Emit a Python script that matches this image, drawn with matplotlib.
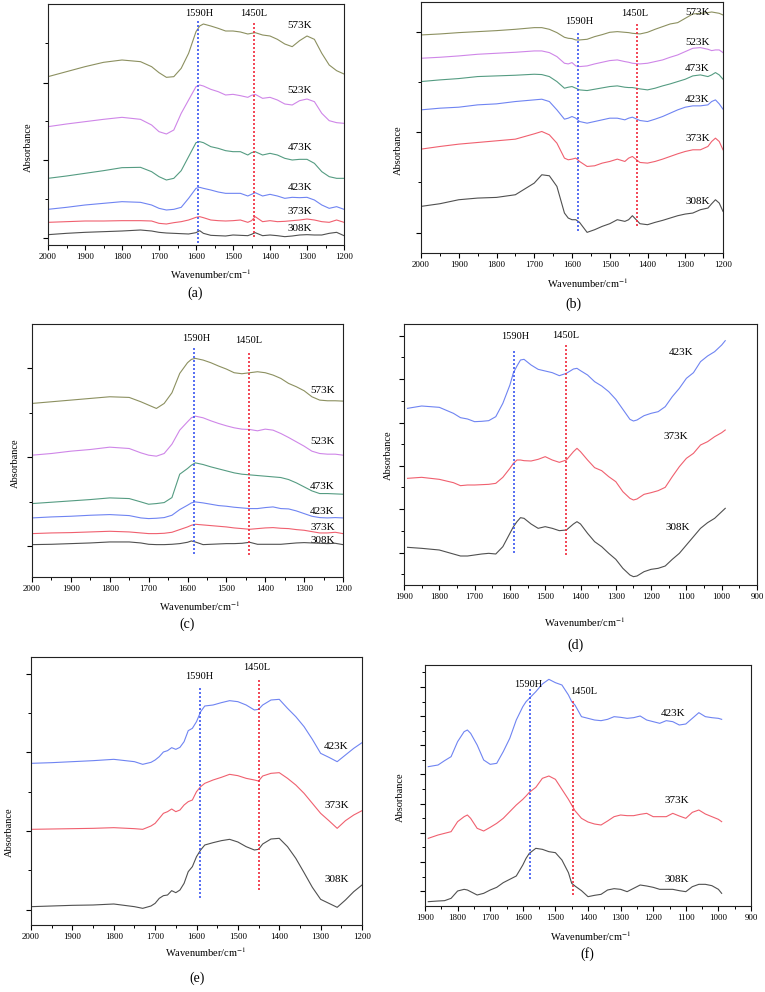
import matplotlib
matplotlib.use('Agg')
import matplotlib.pyplot as plt
from matplotlib.ticker import MultipleLocator, FixedLocator, NullFormatter

plt.rcParams['font.family'] = ['Liberation Serif', 'DejaVu Serif']
plt.rcParams['mathtext.fontset'] = 'stix'

# ---------------- data (absorbance, arbitrary offset units) ----------------
temps6 = ['573K', '523K', '473K', '423K', '373K', '308K']
temps3 = ['423K', '373K', '308K']

# (a)
a_wn = [2000,1950,1900,1850,1800,1750,1720,1700,1680,1660,1640,1620,1600,1590,1580,1560,1540,1520,1500,1480,1460,1450,1440,1420,1400,1380,1360,1340,1320,1300,1280,1260,1240,1220,1200]
a_573 = [5.05,5.20,5.35,5.48,5.55,5.50,5.35,5.17,5.03,5.05,5.30,5.75,6.40,6.57,6.63,6.57,6.50,6.42,6.42,6.39,6.33,6.35,6.37,6.30,6.27,6.17,6.03,5.95,6.13,6.27,6.17,5.75,5.40,5.23,5.13]
a_523 = [3.55,3.63,3.70,3.77,3.83,3.77,3.60,3.40,3.33,3.45,3.95,4.35,4.75,4.80,4.77,4.67,4.60,4.50,4.52,4.48,4.43,4.49,4.52,4.40,4.43,4.35,4.23,4.20,4.33,4.38,4.30,3.95,3.73,3.67,3.65]
a_473 = [2.00,2.07,2.15,2.23,2.32,2.33,2.20,2.05,1.95,2.00,2.23,2.65,3.07,3.10,3.07,2.95,2.90,2.83,2.80,2.80,2.70,2.77,2.80,2.70,2.75,2.70,2.60,2.55,2.57,2.57,2.45,2.20,2.05,2.00,2.00]
a_423 = [1.07,1.13,1.20,1.25,1.30,1.28,1.20,1.10,1.05,1.07,1.13,1.40,1.70,1.73,1.70,1.65,1.59,1.55,1.55,1.55,1.47,1.52,1.57,1.47,1.52,1.47,1.40,1.43,1.42,1.43,1.35,1.20,1.10,1.15,1.07]
a_373 = [0.68,0.70,0.72,0.72,0.73,0.73,0.72,0.65,0.63,0.67,0.70,0.75,0.83,0.85,0.82,0.75,0.73,0.72,0.73,0.75,0.68,0.73,0.85,0.70,0.73,0.70,0.71,0.73,0.75,0.78,0.75,0.70,0.68,0.75,0.68]
a_308 = [0.31,0.35,0.38,0.40,0.42,0.45,0.42,0.38,0.36,0.35,0.34,0.33,0.37,0.43,0.35,0.29,0.28,0.27,0.30,0.29,0.28,0.32,0.37,0.28,0.30,0.28,0.25,0.27,0.30,0.31,0.30,0.30,0.35,0.38,0.28]
a_marker_x = [1594, 1443]
a_marker_y = [(0.07, 6.73), (0.23, 6.67)]
a_marker_lbl = [(1592, 6.93), (1445, 6.93)]
a_temp_x = [1319] * 6
a_temp_y = [6.57, 4.63, 2.92, 1.72, 1.02, 0.49]

# (b)
b_wn = [2000,1950,1900,1850,1800,1750,1700,1680,1660,1640,1620,1610,1600,1590,1580,1560,1540,1520,1500,1480,1460,1450,1440,1420,1400,1380,1360,1340,1320,1300,1280,1260,1240,1230,1220,1210,1200]
b_573 = [6.55,6.58,6.62,6.65,6.68,6.72,6.77,6.77,6.72,6.62,6.48,6.45,6.44,6.40,6.40,6.42,6.50,6.56,6.63,6.65,6.63,6.62,6.60,6.58,6.63,6.72,6.80,6.88,6.92,7.05,7.18,7.20,7.22,7.24,7.22,7.20,7.15]
b_523 = [5.85,5.88,5.92,5.97,6.00,6.03,6.07,6.07,6.02,5.90,5.70,5.68,5.72,5.62,5.60,5.62,5.68,5.73,5.78,5.80,5.75,5.73,5.70,5.68,5.70,5.75,5.80,5.88,5.95,6.05,6.15,6.17,6.12,6.08,6.10,6.10,6.02]
b_473 = [5.15,5.20,5.24,5.30,5.32,5.34,5.37,5.36,5.30,5.15,4.95,4.98,5.00,4.95,4.90,4.88,4.92,4.96,5.00,5.02,4.98,4.97,4.97,4.93,4.90,4.95,5.02,5.08,5.15,5.22,5.32,5.35,5.30,5.35,5.42,5.35,5.22]
b_423 = [4.30,4.35,4.38,4.45,4.48,4.55,4.60,4.62,4.55,4.30,4.02,4.05,4.10,4.05,3.95,3.90,3.95,4.00,4.05,4.05,4.00,4.05,4.08,3.98,3.95,4.02,4.10,4.20,4.30,4.38,4.42,4.42,4.45,4.55,4.60,4.48,4.32]
b_373 = [3.12,3.20,3.27,3.32,3.37,3.42,3.58,3.65,3.55,3.30,2.85,2.80,2.82,2.85,2.75,2.60,2.62,2.70,2.75,2.82,2.75,2.85,2.90,2.72,2.70,2.75,2.82,2.90,2.98,3.05,3.10,3.10,3.20,3.35,3.45,3.35,3.10]
b_308 = [1.40,1.48,1.60,1.65,1.67,1.75,2.10,2.35,2.32,2.00,1.20,1.05,1.00,1.00,0.92,0.62,0.70,0.80,0.88,1.00,0.95,1.00,1.12,0.88,0.85,0.92,0.98,1.05,1.12,1.17,1.20,1.30,1.35,1.48,1.60,1.50,1.25]
b_marker_x = [1585, 1429]
b_marker_y = [(0.65, 6.65), (0.80, 6.92)]
b_marker_lbl = [(1582, 6.95), (1435, 7.18)]
b_temp_x = [1268] * 6
b_temp_y = [7.22, 6.32, 5.55, 4.62, 3.45, 1.55]

# (c)
c_wn = [2000,1950,1900,1850,1800,1750,1720,1700,1680,1660,1640,1620,1600,1590,1580,1560,1540,1520,1500,1480,1460,1440,1420,1400,1380,1360,1340,1320,1300,1280,1260,1240,1220,1200]
c_573 = [5.20,5.25,5.30,5.35,5.40,5.38,5.25,5.15,5.05,5.20,5.52,6.10,6.42,6.52,6.55,6.50,6.42,6.32,6.23,6.12,6.09,6.12,6.15,6.12,6.05,5.95,5.80,5.70,5.58,5.40,5.30,5.28,5.28,5.27]
c_523 = [3.65,3.70,3.77,3.82,3.89,3.85,3.72,3.65,3.62,3.70,3.98,4.40,4.65,4.77,4.82,4.77,4.68,4.60,4.53,4.47,4.43,4.42,4.38,4.43,4.40,4.30,4.18,4.05,3.92,3.77,3.70,3.68,3.68,3.65]
c_473 = [2.20,2.24,2.28,2.32,2.37,2.35,2.25,2.18,2.20,2.23,2.38,3.08,3.25,3.35,3.42,3.37,3.30,3.24,3.18,3.12,3.08,3.06,3.04,3.02,3.00,2.98,2.92,2.82,2.70,2.58,2.50,2.50,2.49,2.48]
c_423 = [1.77,1.80,1.82,1.85,1.87,1.84,1.77,1.75,1.76,1.78,1.85,2.02,2.15,2.22,2.25,2.22,2.18,2.14,2.12,2.09,2.07,2.05,2.05,2.08,2.10,2.05,2.04,1.98,1.90,1.82,1.78,1.77,1.78,1.77]
c_373 = [1.30,1.32,1.33,1.35,1.37,1.35,1.32,1.30,1.30,1.31,1.34,1.42,1.50,1.55,1.58,1.56,1.54,1.52,1.50,1.47,1.45,1.43,1.45,1.47,1.48,1.46,1.45,1.42,1.40,1.36,1.32,1.32,1.34,1.30]
c_308 = [0.97,0.98,1.00,1.02,1.05,1.05,1.02,0.98,0.97,0.97,0.98,1.00,1.04,1.08,1.05,0.97,0.98,0.99,1.00,1.00,1.01,1.04,0.98,0.98,0.98,0.98,1.00,1.02,1.03,1.02,1.01,1.00,1.01,0.97]
c_marker_x = [1583, 1442]
c_marker_y = [(0.70, 6.85), (0.65, 6.75)]
c_marker_lbl = [(1577, 7.15), (1442, 7.10)]
c_temp_x = [1253] * 6
c_temp_y = [5.60, 4.05, 2.70, 1.95, 1.48, 1.10]

# (d)
d_wn = [1890,1850,1800,1760,1740,1720,1700,1680,1660,1640,1620,1600,1590,1580,1570,1560,1540,1520,1500,1480,1460,1440,1420,1410,1400,1380,1360,1340,1320,1300,1280,1260,1250,1240,1220,1200,1180,1160,1140,1120,1100,1080,1060,1040,1020,1000,990]
d_423 = [5.30,5.37,5.33,5.15,5.02,4.98,4.90,4.91,4.93,5.05,5.45,6.00,6.37,6.57,6.75,6.77,6.60,6.47,6.42,6.37,6.28,6.35,6.48,6.50,6.43,6.30,6.10,5.97,5.80,5.57,5.27,4.97,4.92,4.95,5.08,5.15,5.20,5.35,5.65,5.90,6.20,6.37,6.70,6.87,7.00,7.20,7.33]
d_373 = [3.20,3.23,3.17,3.07,2.98,3.00,3.00,3.01,3.02,3.05,3.23,3.50,3.65,3.75,3.75,3.73,3.72,3.77,3.85,3.75,3.68,3.75,4.00,4.10,4.00,3.75,3.52,3.43,3.25,3.10,2.80,2.60,2.55,2.58,2.72,2.77,2.83,2.93,3.25,3.55,3.80,3.95,4.20,4.30,4.45,4.57,4.65]
d_308 = [1.13,1.10,1.05,0.93,0.87,0.87,0.90,0.93,0.95,0.93,1.15,1.55,1.75,1.90,2.02,2.00,1.83,1.70,1.75,1.70,1.63,1.65,1.83,1.90,1.83,1.55,1.30,1.15,0.95,0.77,0.50,0.30,0.25,0.27,0.40,0.47,0.50,0.57,0.77,0.95,1.20,1.45,1.70,1.87,2.00,2.20,2.30]
d_marker_x = [1588, 1442]
d_marker_y = [(0.97, 7.07), (0.90, 7.27)]
d_marker_lbl = [(1585, 7.45), (1443, 7.47)]
d_temp_x = [1116, 1130, 1125]
d_temp_y = [6.97, 4.45, 1.73]

# (e)
e_wn = [2000,1950,1900,1850,1800,1750,1730,1710,1700,1690,1680,1670,1660,1650,1640,1630,1620,1610,1600,1590,1580,1560,1540,1520,1500,1480,1460,1450,1440,1420,1400,1380,1360,1340,1320,1300,1280,1260,1240,1220,1200]
e_423 = [4.85,4.87,4.90,4.93,4.97,4.90,4.82,4.88,4.95,5.05,5.19,5.23,5.32,5.27,5.33,5.50,5.83,5.90,6.10,6.40,6.57,6.60,6.67,6.73,6.70,6.60,6.45,6.47,6.60,6.75,6.77,6.50,6.25,5.95,5.57,5.15,5.03,4.90,5.10,5.30,5.47]
e_373 = [2.87,2.88,2.89,2.90,2.92,2.89,2.87,2.97,3.05,3.20,3.35,3.40,3.48,3.40,3.45,3.60,3.70,3.75,4.00,4.15,4.25,4.35,4.43,4.52,4.48,4.40,4.35,4.32,4.47,4.55,4.57,4.40,4.20,3.95,3.65,3.35,3.13,2.90,3.13,3.30,3.43]
e_308 = [0.55,0.57,0.59,0.60,0.63,0.55,0.50,0.57,0.65,0.80,0.88,0.90,1.03,0.97,1.05,1.25,1.60,1.75,2.05,2.25,2.40,2.47,2.53,2.57,2.49,2.35,2.25,2.27,2.43,2.58,2.60,2.35,2.00,1.57,1.13,0.77,0.65,0.53,0.75,1.00,1.20]
e_marker_x = [1591, 1449]
e_marker_y = [(0.80, 7.15), (1.05, 7.40)]
e_marker_lbl = [(1593, 7.45), (1454, 7.73)]
e_temp_x = [1262] * 3
e_temp_y = [5.35, 3.60, 1.35]

# (f)
f_wn = [1890,1860,1840,1820,1800,1780,1770,1760,1740,1720,1700,1680,1660,1640,1620,1600,1590,1580,1560,1540,1520,1500,1480,1460,1450,1440,1420,1400,1380,1360,1340,1320,1300,1280,1260,1240,1220,1200,1180,1160,1140,1120,1100,1080,1060,1040,1020,1000,990]
f_423 = [4.18,4.23,4.36,4.48,4.93,5.23,5.28,5.18,4.83,4.38,4.25,4.28,4.63,5.03,5.58,5.98,6.13,6.23,6.43,6.66,6.80,6.70,6.63,6.33,6.13,6.03,5.68,5.63,5.58,5.56,5.60,5.68,5.66,5.63,5.65,5.70,5.58,5.53,5.48,5.56,5.53,5.43,5.46,5.63,5.80,5.68,5.65,5.63,5.60]
f_373 = [2.03,2.13,2.18,2.23,2.53,2.68,2.73,2.63,2.33,2.25,2.36,2.48,2.63,2.83,3.03,3.20,3.30,3.41,3.56,3.83,3.90,3.80,3.50,3.20,3.03,2.86,2.63,2.52,2.46,2.43,2.55,2.68,2.73,2.71,2.71,2.75,2.78,2.68,2.68,2.68,2.78,2.70,2.63,2.81,2.88,2.76,2.68,2.60,2.53]
f_308 = [0.13,0.15,0.16,0.23,0.45,0.50,0.48,0.43,0.33,0.38,0.48,0.56,0.70,0.80,0.90,1.23,1.43,1.58,1.73,1.70,1.63,1.60,1.38,1.00,0.68,0.60,0.46,0.28,0.32,0.35,0.48,0.52,0.50,0.43,0.53,0.63,0.60,0.56,0.50,0.50,0.50,0.46,0.43,0.58,0.65,0.65,0.61,0.50,0.38]
f_marker_x = [1578, 1445]
f_marker_y = [(0.80, 6.53), (0.33, 6.20)]
f_marker_lbl = [(1583, 6.66), (1414, 6.43)]
f_temp_x = [1138, 1128, 1128]
f_temp_y = [5.78, 3.16, 0.80]

marker_text = ['1590H', '1450L']
panel_names = ['(a)', '(b)', '(c)', '(d)', '(e)', '(f)']

# ---------------- styling / layout ----------------
COL = {'573K': '#8c9060', '523K': '#cf86e8', '473K': '#559c82',
       '423K': '#6f84f2', '373K': '#f0606f', '308K': '#505050'}
MCOL = ['#3a55f0', '#f0283a']

W, H = 765, 992
fig = plt.figure(figsize=(W / 100, H / 100), dpi=100)

def rect(l, r, t, b):
    return [l / W, 1 - b / H, (r - l) / W, (b - t) / H]

def ftxt(x, y, s, size, **kw):
    fig.text(x / W, 1 - y / H, s, fontsize=size, ha='center', va='center', **kw)

panels = [
    dict(box=(48, 344, 4, 245), xlim=(2000, 1200), ylim=(0, 7.23), wn=a_wn,
         curves=[a_573, a_523, a_473, a_423, a_373, a_308], temps=temps6,
         mx=a_marker_x, my=a_marker_y, ml=a_marker_lbl, tx=a_temp_x, ty=a_temp_y,
         ymaj=[0.21, 2.55, 4.87], ymin=[1.37, 3.71, 6.05],
         xl=(211, 274), pl=(195, 293), yl=(28, 147)),
    dict(box=(421, 723, 2, 253), xlim=(2000, 1200), ylim=(0, 7.54), wn=b_wn,
         curves=[b_573, b_523, b_473, b_423, b_373, b_308], temps=temps6,
         mx=b_marker_x, my=b_marker_y, ml=b_marker_lbl, tx=b_temp_x, ty=b_temp_y,
         ymaj=[0.60, 3.63, 6.65], ymin=[2.12, 5.15],
         xl=(588, 283), pl=(573, 304), yl=(398, 150)),
    dict(box=(32, 343, 324, 577), xlim=(2000, 1200), ylim=(0, 7.58), wn=c_wn,
         curves=[c_573, c_523, c_473, c_423, c_373, c_308], temps=temps6,
         mx=c_marker_x, my=c_marker_y, ml=c_marker_lbl, tx=c_temp_x, ty=c_temp_y,
         ymaj=[0.94, 3.60, 6.25], ymin=[2.25, 4.92],
         xl=(200, 606), pl=(187, 624), yl=(15, 463)),
    dict(box=(404, 757, 324, 585), xlim=(1900, 900), ylim=(0, 7.83), wn=d_wn,
         curves=[d_423, d_373, d_308], temps=temps3,
         mx=d_marker_x, my=d_marker_y, ml=d_marker_lbl, tx=d_temp_x, ty=d_temp_y,
         ymaj=[0.97, 2.28, 3.58, 4.87, 6.17, 7.47], ymin=[0.32, 1.63, 2.93, 4.23, 5.52, 6.83],
         xl=(585, 622), pl=(575, 645), yl=(388, 455)),
    dict(box=(31, 362, 657, 925), xlim=(2000, 1200), ylim=(0, 8.04), wn=e_wn,
         curves=[e_423, e_373, e_308], temps=temps3,
         mx=e_marker_x, my=e_marker_y, ml=e_marker_lbl, tx=e_temp_x, ty=e_temp_y,
         ymaj=[0.45, 2.82, 5.18, 7.53], ymin=[1.65, 4.00, 6.37],
         xl=(206, 952), pl=(197, 978), yl=(9, 832)),
    dict(box=(425, 751, 665, 906), xlim=(1900, 900), ylim=(0, 7.23), wn=f_wn,
         curves=[f_423, f_373, f_308], temps=temps3,
         mx=f_marker_x, my=f_marker_y, ml=f_marker_lbl, tx=f_temp_x, ty=f_temp_y,
         ymaj=[0.46, 1.32, 2.20, 3.06, 3.96, 4.83, 5.70, 6.58],
         ymin=[0.88, 1.76, 2.63, 3.50, 4.38, 5.26, 6.13, 7.03],
         xl=(591, 936), pl=(587, 954), yl=(400, 797)),
]

for p, name in zip(panels, panel_names):
    ax = fig.add_axes(rect(*p['box']))
    for t, ys in zip(p['temps'], p['curves']):
        ax.plot(p['wn'], ys, color=COL[t], lw=0.8)
    for x, (y0, y1), c in zip(p['mx'], p['my'], MCOL):
        ax.vlines(x, y0, y1, colors=c, linestyles=(0, (1.2, 1.2)), lw=1.2)
    for (x, y), s in zip(p['ml'], marker_text):
        ax.text(x, y, s, fontsize=7.5, ha='center', va='center')
    for t, x, y in zip(p['temps'], p['tx'], p['ty']):
        ax.text(x, y, t, fontsize=8, ha='center', va='center')
    ax.set_xlim(*p['xlim'])
    ax.set_ylim(*p['ylim'])
    ax.xaxis.set_major_locator(MultipleLocator(100))
    ax.xaxis.set_minor_locator(MultipleLocator(50))
    ax.yaxis.set_major_locator(FixedLocator(p['ymaj']))
    ax.yaxis.set_minor_locator(FixedLocator(p['ymin']))
    ax.yaxis.set_major_formatter(NullFormatter())
    ax.tick_params(axis='both', which='major', direction='out', length=3.5, width=0.8,
                   labelsize=6.5, pad=2.5)
    ax.tick_params(axis='both', which='minor', direction='out', length=2, width=0.7)
    ax.tick_params(top=False, right=False)
    for s in ax.spines.values():
        s.set_linewidth(0.8)
        s.set_color('#222222')
    ftxt(*p['xl'], r'Wavenumber/cm$^{-1}$', 7.5)
    ftxt(*p['pl'], name, 10)
    ftxt(*p['yl'], 'Absorbance', 7.5, rotation=90)

fig.savefig('out.png', dpi=100)
